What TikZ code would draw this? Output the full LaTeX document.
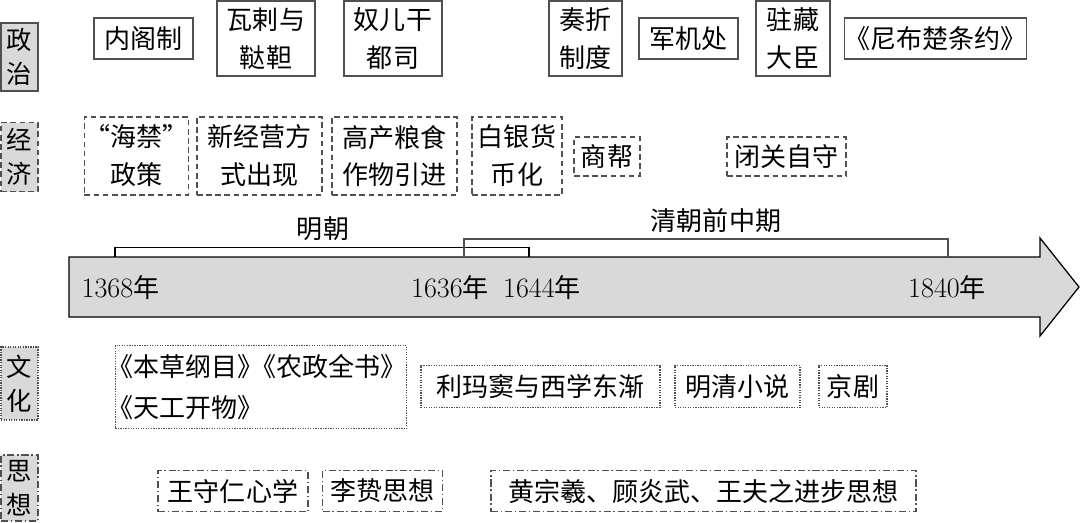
\documentclass[tikz,border=0pt]{standalone}
\usepackage{fontspec}
\newfontfamily\cjk{Noto Sans CJK SC}
\definecolor{boxgray}{HTML}{505050}
\definecolor{fillgray}{HTML}{D9D9D9}

\tikzset{
  sz/.style 2 args={minimum width=#1*0.025cm, minimum height=#2*0.025cm},
  txt/.style={font=\cjk\fontsize{18.5}{27}\selectfont, inner sep=0pt, align=center},
  catbox/.style={txt, font=\cjk\fontsize{18}{24}\selectfont, fill=fillgray, draw=boxgray, line width=1.1pt},
  polbox/.style={txt, draw=boxgray, line width=1.1pt},
  ecobox/.style={txt, draw=boxgray, line width=0.9pt, dash pattern=on 4pt off 2.5pt},
  culbox/.style={txt, draw=boxgray, line width=0.9pt, dash pattern=on 0.9pt off 0.9pt},
  thobox/.style={txt, draw=boxgray, line width=0.9pt, dash pattern=on 5pt off 2pt on 1pt off 2pt},
  year/.style={txt}
}
\newcommand\yr[1]{{\rmfamily\fontsize{20}{27}\selectfont #1}}

\begin{document}
\begin{tikzpicture}[x=0.025cm, y=-0.025cm]
\useasboundingbox (0,0) rectangle (1080,522);

% 政治
\node[catbox, sz={37}{68}] (zhengzhi) at (19.5,57) {政\\治};
\node[polbox, sz={99}{41}] (neige) at (143.5,38.5) {内阁制};
\node[polbox, sz={98}{75}] (wala) at (266,38.5) {瓦剌与\\鞑靼};
\node[polbox, sz={98}{75}] (nuergan) at (393,38.5) {奴儿干\\都司};
\node[polbox, sz={73}{75}] (zouzhe) at (585.5,38.5) {奏折\\制度};
\node[polbox, sz={99}{41}] (junji) at (688.5,38.5) {军机处};
\node[polbox, sz={74}{75}] (zhuzang) at (793,38.5) {驻藏\\大臣};
\node[polbox, sz={177}{41}] (nibuchu) at (935.5,38.5) {《尼布楚条约》};

% 经济
\node[catbox, dash pattern=on 4pt off 2.5pt, sz={37}{69}] (jingji) at (19.5,157) {经\\济};
\node[ecobox, sz={99}{78}] (haijin) at (136.5,156) {“海禁”\\政策};
\node[ecobox, sz={125}{78}] (xinjing) at (259.5,156) {新经营方\\式出现};
\node[ecobox, sz={125}{78}] (gaochan) at (394.5,156) {高产粮食\\作物引进};
\node[ecobox, sz={90}{78}] (baiyin) at (517,156) {白银货\\币化};
\node[ecobox, sz={66}{39}] (shangbang) at (607,156.5) {商帮};
\node[ecobox, sz={119}{39}] (biguan) at (786.5,156.5) {闭关自守};

% 时间轴
\draw[draw=black, line width=0.9pt, fill=fillgray] (69,257) -- (1040,257) -- (1040,238) -- (1079,287) -- (1040,336) -- (1040,317) -- (69,317) -- cycle;
\draw[line width=0.9pt] (115,257) |- (529,247.5) -- (529,257);
\draw[line width=0.9pt, boxgray] (464,257) |- (948,239) -- (948,257);
\node[txt] (ming) at (323,229) {明朝};
\node[txt] (qing) at (716,221) {清朝前中期};
\node[year] (y1368) at (120.5,288) {\yr{1368}年};
\node[year] (y1636) at (450,288) {\yr{1636}年};
\node[year] (y1644) at (542,288) {\yr{1644}年};
\node[year] (y1840) at (947,288) {\yr{1840}年};

% 文化
\node[catbox, dash pattern=on 0.9pt off 0.9pt, sz={37}{73}] (wenhua) at (19.5,383.5) {文\\化};
\node[culbox, sz={288}{83}, font=\cjk\fontsize{18.5}{29}\selectfont, align=left] (bencao) at (261,387) {\kern-0.3em《本草纲目》\kern-0.5em《农政全书》\\\kern-0.3em《天工开物》};
\node[culbox, sz={239}{42}] (limadou) at (540.5,386.5) {利玛窦与西学东渐};
\node[culbox, sz={125}{42}] (xiaoshuo) at (737.5,386.5) {明清小说};
\node[culbox, sz={68}{42}] (jingju) at (853,386.5) {京剧};

% 思想
\node[catbox, dash pattern=on 5pt off 2pt on 1pt off 2pt, sz={37}{66}] (sixiang) at (19.5,488) {思\\想};
\node[thobox, sz={150}{41}] (wangshouren) at (233,491) {王守仁心学};
\node[thobox, sz={120}{41}] (lizhi) at (382.5,491) {李贽思想};
\node[thobox, sz={425}{41}] (huangzongxi) at (703.5,491) {黄宗羲、顾炎武、王夫之进步思想};
\end{tikzpicture}
\end{document}
